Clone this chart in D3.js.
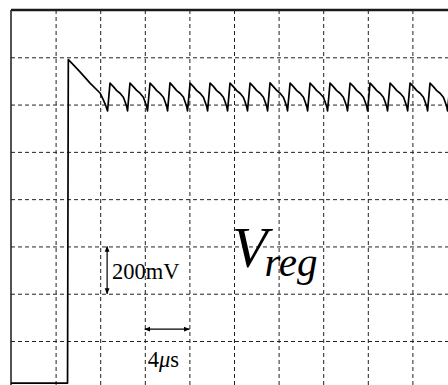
<!DOCTYPE html>
<html>
<head>
<meta charset="utf-8">
<script src="https://cdn.jsdelivr.net/npm/d3@7"></script>
<style>
  html, body { margin: 0; padding: 0; background: #fff; }
  svg { display: block; }
</style>
</head>
<body>
<svg id="chart" width="448" height="385"></svg>
<script>
// ---- data (time in µs, voltage in mV) ----
const timeUs = [
  0, 5.07, 5.14, 5.47, 6.19, 7.09, 7.98, 8.25, 8.48, 8.66,
  8.88, 9.18, 9.48, 9.78, 10.08, 10.23, 10.38, 10.45,
  10.67, 10.97, 11.27, 11.57, 11.87, 12.02, 12.17, 12.24,
  12.47, 12.77, 13.07, 13.37, 13.67, 13.82, 13.97, 14.04,
  14.26, 14.56, 14.86, 15.16, 15.46, 15.61, 15.76, 15.83,
  16.06, 16.36, 16.66, 16.96, 17.26, 17.41, 17.56, 17.63,
  17.85, 18.15, 18.45, 18.75, 19.05, 19.20, 19.35, 19.42,
  19.64, 19.94, 20.24, 20.54, 20.84, 20.99, 21.14, 21.21,
  21.44, 21.74, 22.04, 22.34, 22.64, 22.79, 22.94, 23.01,
  23.23, 23.53, 23.83, 24.13, 24.43, 24.58, 24.73, 24.80,
  25.03, 25.33, 25.63, 25.93, 26.23, 26.38, 26.53, 26.60,
  26.82, 27.12, 27.42, 27.72, 28.02, 28.17, 28.32, 28.39,
  28.61, 28.91, 29.21, 29.51, 29.81, 29.96, 30.11, 30.18,
  30.41, 30.71, 31.01, 31.31, 31.61, 31.76, 31.91, 31.98,
  32.20, 32.50, 32.80, 33.10, 33.40, 33.55, 33.70, 33.77,
  34.00, 34.30, 34.60, 34.90, 35.20, 35.35, 35.50, 35.57,
  35.79, 36.09, 36.39, 36.69, 36.99, 37.14, 37.29, 37.36,
  37.58, 37.88, 38.18, 38.48, 38.78, 38.93, 39.08, 39.15,
  39.38
];
const voltageMv = [
  22, 22, 1390, 1374, 1338, 1291, 1249, 1223, 1198, 1173,
  1291, 1276, 1259, 1248, 1231, 1212, 1191, 1173,
  1291, 1276, 1260, 1248, 1231, 1212, 1190, 1173,
  1291, 1276, 1259, 1247, 1231, 1212, 1191, 1173,
  1292, 1276, 1259, 1248, 1232, 1212, 1191, 1173,
  1291, 1276, 1259, 1248, 1231, 1211, 1191, 1173,
  1291, 1277, 1259, 1248, 1231, 1212, 1191, 1173,
  1291, 1276, 1259, 1248, 1231, 1212, 1190, 1173,
  1291, 1276, 1259, 1248, 1231, 1212, 1191, 1173,
  1292, 1276, 1260, 1248, 1231, 1212, 1191, 1173,
  1291, 1276, 1259, 1248, 1231, 1212, 1191, 1173,
  1291, 1276, 1259, 1247, 1231, 1212, 1191, 1173,
  1291, 1276, 1259, 1248, 1231, 1212, 1191, 1173,
  1291, 1277, 1259, 1248, 1231, 1212, 1191, 1173,
  1291, 1276, 1259, 1248, 1231, 1212, 1191, 1173,
  1291, 1276, 1259, 1248, 1232, 1212, 1191, 1173,
  1291, 1276, 1259, 1248, 1231, 1212, 1191, 1173,
  1291, 1276, 1259, 1248, 1231, 1212, 1191, 1173,
  1291
];
const gridTimesUs = [4, 8, 12, 16, 20, 24, 28, 32, 36];
const gridVoltagesMv = [200, 400, 600, 800, 1000, 1200, 1400];
const voltScaleBarMv = [400, 600];   // 200 mV scale marker
const voltScaleBarTimeUs = [8.62];
const timeScaleBarUs = [12, 16];     // 4 µs scale marker
const timeScaleBarMv = [250];

// ---- layout ----
const margin = { left: 11, top: 10 };
const width = 446, height = 378.3;
const svg = d3.select("#chart");
const g = svg.append("g").attr("transform", `translate(${margin.left},${margin.top})`);

const x = d3.scaleLinear().domain([0, 40]).range([0, width]);
const y = d3.scaleLinear().domain([0, 1600]).range([height, 0]);

// grid via axes
const gx = g.append("g")
  .call(d3.axisBottom(x).tickValues(gridTimesUs).tickSize(height).tickSizeOuter(0).tickFormat(""));
gx.selectAll(".domain").remove();
gx.selectAll(".tick line").attr("y1", 0).attr("y2", height + 10)
  .attr("stroke", "#222").attr("stroke-dasharray", "4,3");

const gy = g.append("g")
  .call(d3.axisLeft(y).tickValues(gridVoltagesMv).tickSize(0).tickFormat(""));
gy.selectAll(".domain").remove();
gy.selectAll(".tick line").attr("x1", 0).attr("x2", width + 10)
  .attr("stroke", "#222").attr("stroke-dasharray", "4,3");

// frame: top and left borders
g.append("line").attr("x1", x(0)).attr("x2", width + 10).attr("y1", y(1600)).attr("y2", y(1600))
  .attr("stroke", "#1a1a1a").attr("stroke-width", 2.5);
g.append("line").attr("x1", x(0)).attr("x2", x(0)).attr("y1", y(1600)).attr("y2", height + 10)
  .attr("stroke", "#1a1a1a").attr("stroke-width", 1.5);

// trace
const pts = timeUs.map((t, i) => [t, voltageMv[i]]);
g.append("path").datum(pts)
  .attr("fill", "none").attr("stroke", "#000").attr("stroke-width", 1.7)
  .attr("stroke-linejoin", "round")
  .attr("d", d3.line().x(d => x(d[0])).y(d => y(d[1])));

// arrow markers
const defs = svg.append("defs");
defs.append("marker").attr("id", "ah").attr("viewBox", "0 0 10 10")
  .attr("refX", 9).attr("refY", 5).attr("markerWidth", 6).attr("markerHeight", 6)
  .attr("markerUnits", "userSpaceOnUse").attr("orient", "auto-start-reverse")
  .append("path").attr("d", "M0,1 L10,5 L0,9 Z").attr("fill", "#000");

// 200 mV scale bar
g.append("line")
  .attr("x1", x(voltScaleBarTimeUs[0])).attr("x2", x(voltScaleBarTimeUs[0]))
  .attr("y1", y(voltScaleBarMv[1])).attr("y2", y(voltScaleBarMv[0]))
  .attr("stroke", "#000").attr("stroke-width", 1.2)
  .attr("marker-start", "url(#ah)").attr("marker-end", "url(#ah)");
g.append("text").attr("x", x(voltScaleBarTimeUs[0]) + 5).attr("y", y((voltScaleBarMv[0] + voltScaleBarMv[1]) / 2) + 9)
  .attr("font-family", "Liberation Serif, Times New Roman, serif").attr("font-size", 22.5)
  .text("200mV");

// 4 µs scale bar
g.append("line")
  .attr("x1", x(timeScaleBarUs[0])).attr("x2", x(timeScaleBarUs[1]))
  .attr("y1", y(timeScaleBarMv[0])).attr("y2", y(timeScaleBarMv[0]))
  .attr("stroke", "#000").attr("stroke-width", 1.2)
  .attr("marker-start", "url(#ah)").attr("marker-end", "url(#ah)");
const tt = g.append("text").attr("x", x(timeScaleBarUs[0]) + 3).attr("y", y(timeScaleBarMv[0]) + 38)
  .attr("font-family", "Liberation Serif, Times New Roman, serif").attr("font-size", 22.5);
tt.append("tspan").text("4");
tt.append("tspan").attr("font-style", "italic").text("μ");
tt.append("tspan").text("s");

// V_reg label
const vt = svg.append("text").attr("x", 232).attr("y", 267)
  .attr("font-family", "Liberation Serif, Times New Roman, serif").attr("font-style", "italic");
vt.append("tspan").attr("font-size", 58).text("V");
vt.append("tspan").attr("font-size", 41).attr("dy", 9).attr("dx", -3).text("reg");
</script>
</body>
</html>
